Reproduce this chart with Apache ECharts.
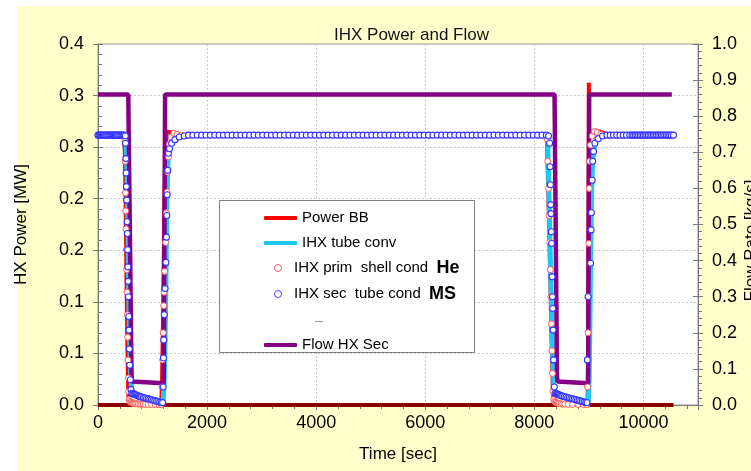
<!DOCTYPE html>
<html><head><meta charset="utf-8">
<script src="https://cdn.jsdelivr.net/npm/echarts@6/dist/echarts.min.js"></script>
<style>html,body{margin:0;padding:0;background:#fff}#chart{width:751px;height:471px}</style>
</head><body><div id="chart"></div>
<script>
const FONT = 'Liberation Sans, Arial, sans-serif';
const chartTitle = 'IHX Power and Flow';
const xAxisName = 'Time [sec]';
const leftAxisName = 'HX Power [MW]';
const rightAxisName = 'Flow Rate [kg/s]';
const xTickLabels = ['0','2000','4000','6000','8000','10000'];
const leftTickLabels = ['0.0','0.1','0.1','0.2','0.2','0.3','0.3','0.4'];
const rightTickLabels = ['0.0','0.1','0.2','0.3','0.4','0.5','0.6','0.7','0.8','0.9','1.0'];

// [time s, power MW]
const powerBB = [[0,0.299],[480,0.299],[492,0.280],[505,0.230],[520,0.150],[535,0.080],[548,0.030],[560,0.006],[580,0.001],[620,0],[1160,0],[1175,0.030],[1190,0.090],[1203,0.150],[1215,0.215],[1230,0.265],[1248,0.295],[1268,0.303],[1300,0.304],[1350,0.302],[1420,0.300],[1500,0.299],[8226,0.299],[8245,0.260],[8270,0.200],[8295,0.130],[8320,0.060],[8340,0.015],[8360,0.002],[8390,0],[8975,0],[8985,0.060],[8993,0.200],[8999,0.357],[9006,0.300],[9020,0.300],[9050,0.303],[9120,0.304],[9200,0.303],[9300,0.301],[9400,0.299],[10550,0.299]];

const tubeConv = [[0,0.299],[500,0.299],[520,0.285],[535,0.250],[550,0.190],[565,0.120],[580,0.070],[595,0.040],[610,0.022],[625,0.014],[900,0.008],[1195,0.004],[1215,0.030],[1235,0.090],[1250,0.160],[1262,0.220],[1275,0.255],[1292,0.278],[1320,0.290],[1370,0.296],[1460,0.299],[8240,0.299],[8258,0.260],[8280,0.200],[8305,0.130],[8330,0.065],[8355,0.025],[8375,0.014],[8680,0.008],[8990,0.004],[9005,0.030],[9020,0.100],[9035,0.180],[9050,0.235],[9065,0.265],[9088,0.283],[9120,0.292],[9200,0.297],[9320,0.299],[10550,0.299]];

const primShellHe = [[0,0.299],[40,0.299],[80,0.299],[120,0.299],[160,0.299],[200,0.299],[240,0.299],[280,0.299],[320,0.299],[360,0.299],[400,0.299],[440,0.299],[480,0.299],
[490,0.295],[496,0.270],[502,0.235],[508,0.215],[514,0.195],[520,0.172],[526,0.150],[532,0.125],[538,0.100],[544,0.075],[550,0.050],[556,0.030],[562,0.015],
[570,0.006],[585,0.004],[600,0.003],[615,0.003],[630,0.002],[650,0.002],[670,0.002],[690,0.0015],[710,0.0015],[740,0.001],[770,0.001],[800,0.001],[830,0.001],[870,0.0008],[920,0.0006],[980,0.0005],[1050,0.0004],[1120,0.0003],[1160,0.0003],
[1175,0.020],[1185,0.050],[1195,0.080],[1205,0.110],[1212,0.125],[1222,0.148],[1240,0.180],[1255,0.213],[1268,0.236],[1280,0.258],[1292,0.275],[1310,0.289],[1340,0.297],[1390,0.301],[1450,0.300],[1530,0.299],
[1660,0.299],[2060,0.299],[2460,0.299],[2860,0.299],[3260,0.299],[3660,0.299],[4060,0.299],[4460,0.299],[4860,0.299],[5260,0.299],[5660,0.299],[6060,0.299],[6460,0.299],[6860,0.299],[7260,0.299],[7660,0.299],[8060,0.299],
[8230,0.295],[8245,0.270],[8258,0.240],[8270,0.210],[8282,0.180],[8292,0.150],[8302,0.120],[8312,0.090],[8322,0.060],[8332,0.035],[8342,0.015],
[8355,0.006],[8370,0.004],[8385,0.003],[8400,0.003],[8420,0.002],[8440,0.002],[8460,0.0015],[8490,0.0012],[8520,0.001],[8560,0.001],[8620,0.0008],[8700,0.0006],[8800,0.0005],[8900,0.0004],[8960,0.0003],
[8975,0.020],[8985,0.080],[8990,0.120],[8998,0.179],[9005,0.240],[9015,0.270],[9030,0.288],[9060,0.298],[9100,0.303],[9150,0.302],[9220,0.300],[9300,0.299],
[9390,0.299],[9510,0.299],[9630,0.299],[9750,0.299],[9850,0.299],[9970,0.299],[10090,0.299],[10210,0.299],[10330,0.299],[10450,0.299],[10550,0.299]];

const secTubeMS = [[0,0.299],[20,0.299],[40,0.299],[60,0.299],[80,0.299],[100,0.299],[120,0.299],[140,0.299],[160,0.299],[180,0.299],[200,0.299],[220,0.299],[240,0.299],[260,0.299],[280,0.299],[300,0.299],[320,0.299],[340,0.299],[360,0.299],[380,0.299],[400,0.299],[420,0.299],[440,0.299],[460,0.299],[480,0.299],[500,0.298],
[505,0.290],[510,0.273],[515,0.257],[520,0.242],[527,0.227],[533,0.203],[538,0.190],[543,0.172],[548,0.153],[553,0.137],[558,0.120],[563,0.098],[568,0.083],[575,0.062],[582,0.044],[592,0.028],[605,0.017],
[620,0.013],[640,0.0125],[660,0.012],[680,0.0115],[700,0.011],[720,0.0105],[740,0.010],[760,0.0095],[780,0.009],[800,0.0088],[830,0.0082],[860,0.0078],[890,0.0072],[920,0.0068],[950,0.0062],[980,0.0058],[1010,0.0052],[1040,0.0048],[1070,0.0042],[1100,0.0038],[1130,0.0032],[1160,0.0028],[1185,0.0025],
[1195,0.020],[1200,0.052],[1205,0.072],[1215,0.100],[1230,0.129],[1245,0.158],[1255,0.186],[1262,0.210],[1268,0.233],[1278,0.260],[1292,0.279],[1310,0.284],[1350,0.290],[1410,0.294],[1490,0.297],[1580,0.298],
[1660,0.299],[1740,0.299],[1820,0.299],[1900,0.299],[1980,0.299],[2060,0.299],[2140,0.299],[2220,0.299],[2300,0.299],[2380,0.299],[2460,0.299],[2540,0.299],[2620,0.299],[2700,0.299],[2780,0.299],[2860,0.299],[2940,0.299],[3020,0.299],[3100,0.299],[3180,0.299],[3260,0.299],[3340,0.299],[3420,0.299],[3500,0.299],[3580,0.299],[3660,0.299],[3740,0.299],[3820,0.299],[3900,0.299],[3980,0.299],[4060,0.299],[4140,0.299],[4220,0.299],[4300,0.299],[4380,0.299],[4460,0.299],[4540,0.299],[4620,0.299],[4700,0.299],[4780,0.299],[4860,0.299],[4940,0.299],[5020,0.299],[5100,0.299],[5180,0.299],[5260,0.299],[5340,0.299],[5420,0.299],[5500,0.299],[5580,0.299],[5660,0.299],[5740,0.299],[5820,0.299],[5900,0.299],[5980,0.299],[6060,0.299],[6140,0.299],[6220,0.299],[6300,0.299],[6380,0.299],[6460,0.299],[6540,0.299],[6620,0.299],[6700,0.299],[6780,0.299],[6860,0.299],[6940,0.299],[7020,0.299],[7100,0.299],[7180,0.299],[7260,0.299],[7340,0.299],[7420,0.299],[7500,0.299],[7580,0.299],[7660,0.299],[7740,0.299],[7820,0.299],[7900,0.299],[7980,0.299],[8060,0.299],[8140,0.299],[8220,0.299],[8260,0.298],
[8280,0.290],[8288,0.264],[8294,0.244],[8300,0.222],[8305,0.212],[8311,0.192],[8316,0.179],[8325,0.142],[8331,0.120],[8336,0.107],[8343,0.083],[8352,0.050],[8365,0.020],
[8380,0.013],[8400,0.0125],[8420,0.012],[8440,0.0115],[8460,0.011],[8480,0.0105],[8500,0.010],[8520,0.0098],[8550,0.0092],[8580,0.0088],[8610,0.0082],[8640,0.0078],[8670,0.0072],[8700,0.0068],[8730,0.0062],[8760,0.0058],[8790,0.0052],[8820,0.0048],[8850,0.0042],[8880,0.0038],[8910,0.0032],[8940,0.0028],[8965,0.0025],
[8972,0.050],[8985,0.120],[9030,0.157],[9040,0.194],[9045,0.213],[9060,0.249],[9070,0.270],[9085,0.281],[9110,0.290],[9170,0.295],[9250,0.298],[9330,0.299],
[9390,0.299],[9450,0.299],[9510,0.299],[9570,0.299],[9630,0.299],[9690,0.299],[9750,0.299],[9790,0.299],[9820,0.299],[9850,0.299],[9880,0.299],[9910,0.299],[9940,0.299],[9970,0.299],[10000,0.299],[10030,0.299],[10060,0.299],[10090,0.299],[10120,0.299],[10150,0.299],[10180,0.299],[10210,0.299],[10240,0.299],[10270,0.299],[10300,0.299],[10330,0.299],[10360,0.299],[10390,0.299],[10420,0.299],[10450,0.299],[10480,0.299],[10510,0.299],[10550,0.299]];

const zeroLine = [[0,0],[10550,0]];

// [time s, flow kg/s]
const flowHXSec = [[0,0.86],[555,0.86],[615,0.08],[625,0.065],[640,0.06],[1205,0.06],[1230,0.86],[8370,0.86],[8415,0.08],[8425,0.065],[8440,0.06],[8985,0.06],[9005,0.86],[10520,0.86]];

const chart = echarts.init(document.getElementById('chart'), null, {renderer:'canvas'});
const option = {
  animation: false,
  backgroundColor: '#ffffff',
  title: {text: chartTitle, left: 329, top: 22, textStyle: {fontFamily: FONT, fontSize: 17, fontWeight: 'normal', color: '#111'}},
  graphic: [
    {type:'rect', shape:{x:17, y:6, width:734, height:465}, style:{fill:'#FFFFCC'}, z:-100, silent:true},
    {type:'rect', shape:{x:219.5, y:200.5, width:255, height:152}, style:{fill:'#ffffff', stroke:'#7f7f7f', lineWidth:1}, z:8, silent:true}
  ],
  grid: {left: 98, right: 53, top: 44, bottom: 66, containLabel: false, outerBoundsMode: 'none', show: true, backgroundColor: '#ffffff', borderColor: '#9a9a9a', borderWidth: 1},
  legend: [
    {data:[{name:'Power BB', icon:'roundRect'},{name:'IHX tube conv', icon:'roundRect'}], orient:'vertical', left:259, top:204, itemWidth:33, itemHeight:4, itemGap:7, selectedMode:false, z:10,
     textStyle:{fontFamily:FONT, fontSize:15, lineHeight:18, color:'#000'}},
    {data:[{name:'IHX prim  shell cond He', icon:'circle', itemStyle:{color:'#ffffff', borderColor:'#ff5a5a', borderWidth:1}},
           {name:'IHX sec  tube cond MS', icon:'circle', itemStyle:{color:'#ffffff', borderColor:'#4a4aff', borderWidth:1}}],
     orient:'vertical', left:269, top:253, itemWidth:22, itemHeight:7, itemGap:6, selectedMode:false, z:10,
     formatter: n => n.replace(/ (He|MS)$/, '  {b|$1}'),
     textStyle:{fontFamily:FONT, fontSize:15, lineHeight:20, color:'#000', rich:{b:{fontFamily:FONT, fontSize:18, fontWeight:'bold', lineHeight:20, color:'#000'}}}},
    {data:[{name:' ', icon:'rect', itemStyle:{color:'#999999'}}], left:310, top:316, itemWidth:8, itemHeight:1, selectedMode:false, z:10,
     formatter: () => '', textStyle:{fontSize:10, lineHeight:12}},
    {data:[{name:'Flow HX Sec', icon:'roundRect'}], orient:'vertical', left:259, top:331, itemWidth:33, itemHeight:4, selectedMode:false, z:10,
     textStyle:{fontFamily:FONT, fontSize:15, lineHeight:18, color:'#000'}}
  ],
  xAxis: {
    type:'value', min:0, max:11000, interval:2000,
    name: xAxisName, nameLocation:'middle', nameGap:41, nameMoveOverlap:false,
    nameTextStyle:{fontFamily:FONT, fontSize:17, color:'#000'},
    axisLine:{show:true, onZero:false, lineStyle:{color:'#777', width:1}},
    axisTick:{show:true, inside:false, length:5, lineStyle:{color:'#777'}},
    minorTick:{show:true, splitNumber:5, length:4, lineStyle:{color:'#777'}},
    axisLabel:{fontFamily:FONT, fontSize:18, color:'#000', margin:9, showMaxLabel:true,
      formatter: v => { const i = v / 2000; return (Number.isInteger(i) && i < xTickLabels.length) ? xTickLabels[i] : ''; }},
    splitLine:{show:true, lineStyle:{color:'#c8c8c8', type:[2,2], width:1}}
  },
  yAxis: [
    {type:'value', position:'left', min:0, max:0.4, interval:0.4/7,
     name:leftAxisName, nameLocation:'middle', nameGap:68, nameRotate:90, nameMoveOverlap:false,
     nameTextStyle:{fontFamily:FONT, fontSize:17, color:'#000'},
     axisLine:{show:true, lineStyle:{color:'#777', width:1}},
     axisTick:{show:true, inside:false, length:5, lineStyle:{color:'#777'}},
     axisLabel:{fontFamily:FONT, fontSize:18, color:'#000', margin:14, formatter:(v,i)=>leftTickLabels[i]},
     splitLine:{show:true, lineStyle:{color:'#c8c8c8', type:[2,2], width:1}}},
    {type:'value', position:'right', min:0, max:1, interval:0.1,
     name:rightAxisName, nameLocation:'middle', nameGap:45, nameRotate:90, nameMoveOverlap:false,
     nameTextStyle:{fontFamily:FONT, fontSize:17, color:'#000', padding:[0,32,0,0]},
     axisLine:{show:true, lineStyle:{color:'#777', width:1}},
     axisTick:{show:true, inside:false, length:5, lineStyle:{color:'#777'}},
     minorTick:{show:true, splitNumber:5, length:4, lineStyle:{color:'#777'}},
     axisLabel:{fontFamily:FONT, fontSize:18, color:'#000', margin:14, formatter:(v,i)=>rightTickLabels[i]},
     splitLine:{show:false}},
    {type:'value', position:'left', min:0, max:0.4, interval:0.4/7,
     axisLine:{show:false}, axisLabel:{show:false}, splitLine:{show:false},
     axisTick:{show:true, inside:true, length:5, lineStyle:{color:'#777'}},
     minorTick:{show:true, splitNumber:5, length:4, lineStyle:{color:'#777'}}},
    {type:'value', position:'right', min:0, max:1, interval:0.1,
     axisLine:{show:false}, axisLabel:{show:false}, splitLine:{show:false},
     axisTick:{show:true, inside:true, length:5, lineStyle:{color:'#777'}}}
  ],
  series: [
    {name:'Power BB', type:'line', yAxisIndex:0, data:powerBB, showSymbol:false, symbol:'none', z:2, color:'#ff0000', lineStyle:{color:'#ff0000', width:4}},
    {name:'IHX tube conv', type:'line', yAxisIndex:0, data:tubeConv, showSymbol:false, symbol:'none', z:2, color:'#1ec8f5', lineStyle:{color:'#1ec8f5', width:5}},
    {name:' ', type:'line', yAxisIndex:0, data:zeroLine, showSymbol:false, symbol:'none', z:3, color:'#8b0000', lineStyle:{color:'#8b0000', width:4}},
    {name:'Flow HX Sec', type:'line', yAxisIndex:1, data:flowHXSec, showSymbol:false, symbol:'none', z:3, color:'#860086', lineStyle:{color:'#860086', width:4.5}},
    {name:'IHX prim  shell cond He', type:'scatter', yAxisIndex:0, data:primShellHe, symbol:'circle', symbolSize:6, z:5,
     itemStyle:{color:'#ffffff', borderColor:'#ff5a5a', borderWidth:1, opacity:1}},
    {name:'IHX sec  tube cond MS', type:'scatter', yAxisIndex:0, data:secTubeMS, symbol:'circle', symbolSize:6, z:6,
     itemStyle:{color:'#ffffff', borderColor:'#3535ff', borderWidth:1.1, opacity:1}}
  ]
};
chart.setOption(option);
</script></body></html>
